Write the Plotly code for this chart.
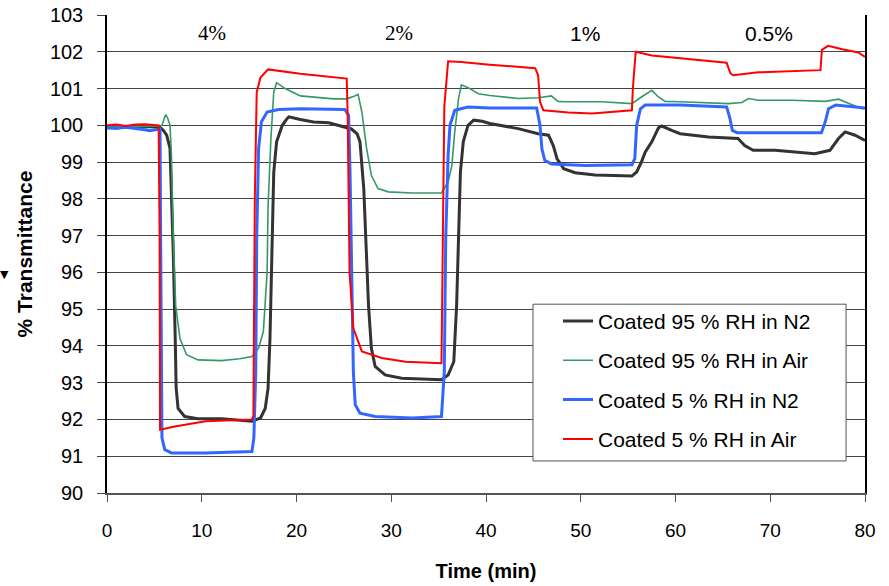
import plotly.graph_objects as go

# ---------------- data ----------------
t_black = [0, 1, 2, 3, 4, 5, 5.6, 5.95, 6.3, 6.65, 6.8, 7.0, 7.2, 7.3, 7.5, 8.2, 9.6, 12.1, 15.3, 16.2,
           16.7, 17.0, 17.2, 17.4, 17.6, 17.9, 18.5, 19.0, 19.2, 20.4, 21.8, 23.4, 25.3, 25.8, 26.4, 26.7,
           27.1, 27.3, 27.6, 27.9, 28.3, 29.35, 31.1, 35.3, 36.0, 36.6, 36.9, 37.1, 37.3, 37.6, 38.1, 38.7,
           39.6, 40.4, 43.4, 45.5, 46.6, 47.1, 47.5, 48.2, 49.4, 51.5, 55.4, 55.9, 56.4, 56.8, 57.5, 58.2,
           58.55, 59.6, 60.5, 63.5, 65.6, 66.6, 67.3, 68.2, 70.5, 74.7, 76.3, 77.2, 77.9, 78.95, 80]
v_black = [99.95, 99.93, 99.96, 99.94, 99.97, 99.95, 99.95, 99.86, 99.73, 99.37, 98.28, 96.47, 94.2, 92.85,
           92.3, 92.08, 92.02, 92.02, 91.95, 92.04, 92.3, 92.85, 94.2, 96.92, 98.73, 99.55, 100.0, 100.18,
           100.23, 100.16, 100.09, 100.07, 99.95, 99.9, 99.77, 99.55, 98.28, 96.92, 95.11, 93.94, 93.44,
           93.21, 93.12, 93.08, 93.21, 93.57, 95.11, 96.92, 98.73, 99.55, 100.0, 100.14, 100.11, 100.05,
           99.91, 99.77, 99.73, 99.45, 99.09, 98.82, 98.71, 98.65, 98.62, 98.73, 99.0, 99.27, 99.55, 99.93,
           99.98, 99.86, 99.77, 99.68, 99.64, 99.64, 99.45, 99.32, 99.32, 99.23, 99.32, 99.64, 99.82,
           99.73, 99.59]

t_green = [0, 2, 4, 5.5, 5.8, 6.0, 6.2, 6.4, 6.65, 6.8, 7.0, 7.25, 7.7, 8.4, 9.6, 12.1, 14.0, 15.3, 16.0,
           16.5, 16.9, 17.0, 17.3, 17.6, 17.9, 18.8, 20.4, 23.9, 25.3, 26.0, 26.5, 26.9, 27.4, 27.9, 28.6,
           29.7, 32.2, 35.3, 36.0, 36.4, 36.7, 37.1, 37.4, 38.2, 39.2, 40.4, 43.4, 45.5, 46.9, 47.6, 48.3,
           52.2, 55.4, 56.4, 57.5, 58.2, 58.9, 60.5, 63.5, 65.6, 67.0, 67.7, 68.75, 72.3, 75.8, 77.2, 78.3,
           79.7, 80]
v_green = [99.97, 99.96, 99.97, 99.98, 100.0, 100.15, 100.29, 100.2, 100.0, 99.19, 96.92, 95.1, 94.2,
           93.76, 93.62, 93.6, 93.65, 93.71, 93.94, 94.39, 96.0, 97.8, 99.64, 100.9, 101.16, 101.0, 100.8,
           100.72, 100.72, 100.78, 100.84, 100.36, 99.37, 98.64, 98.28, 98.19, 98.16, 98.16, 98.46, 98.91,
           99.82, 100.72, 101.1, 101.01, 100.86, 100.81, 100.73, 100.75, 100.8, 100.65, 100.64, 100.64,
           100.59, 100.77, 100.95, 100.77, 100.65, 100.64, 100.62, 100.59, 100.62, 100.73, 100.68, 100.68,
           100.65, 100.71, 100.59, 100.45, 100.47]

t_blue = [0, 1, 2, 3, 4, 4.5, 5.0, 5.5, 5.6, 5.65, 5.75, 5.8, 6.1, 6.8, 10.35, 15.3, 15.5, 15.7, 15.8, 16.0,
          16.3, 16.9, 18.1, 20.4, 25.1, 25.5, 25.65, 25.8, 26.0, 26.2, 26.7, 28.3, 32.2, 35.3, 35.6, 35.75,
          36.0, 36.2, 36.7, 38.1, 40.4, 45.35, 45.7, 45.9, 46.2, 46.9, 50.45, 55.4, 55.7, 55.9, 56.3, 56.8,
          60.5, 65.4, 65.75, 66.0, 66.5, 70.5, 75.4, 75.8, 76.15, 76.9, 78.6, 80]
v_blue = [99.93, 99.92, 99.95, 99.92, 99.88, 99.85, 99.87, 99.9, 99.9, 97.4, 93.3, 91.5, 91.18, 91.09,
          91.09, 91.13, 91.5, 93.3, 96.92, 99.37, 100.1, 100.36, 100.43, 100.45, 100.43, 100.27, 98.73,
          96.0, 93.3, 92.4, 92.17, 92.08, 92.04, 92.08, 93.3, 96.92, 99.19, 100.0, 100.41, 100.5, 100.47,
          100.47, 100.0, 99.36, 99.05, 98.95, 98.91, 98.93, 99.09, 100.0, 100.45, 100.55, 100.55, 100.5,
          100.18, 99.86, 99.8, 99.8, 99.8, 100.09, 100.45, 100.55, 100.5, 100.47]

t_red = [0, 1, 2, 3, 4, 5, 5.45, 5.55, 5.6, 7, 10.4, 15.3, 15.45, 15.6, 15.8, 16.2, 17.0, 20.4, 23.9, 25.3,
         25.4, 25.6, 26.0, 26.9, 29.0, 31.5, 35.3, 35.4, 35.6, 36.0, 37.4, 40.4, 45.2, 45.5, 45.7, 46.05,
         48.7, 51.2, 54.7, 55.4, 55.5, 55.8, 57.5, 60.5, 64.5, 65.4, 65.8, 66.1, 68.75, 72.3, 75.3, 75.45,
         76.1, 77.6, 79.3, 80]
v_red = [100.0, 100.02, 99.98, 100.02, 100.03, 100.02, 100.0, 97.0, 91.72, 91.8, 91.95, 92.0, 92.1, 98.0,
         100.9, 101.3, 101.52, 101.4, 101.31, 101.27, 100.3, 96.0, 94.48, 93.85, 93.67, 93.57, 93.53, 95.5,
         100.5, 101.74, 101.72, 101.65, 101.55, 101.36, 100.64, 100.41, 100.35, 100.32, 100.38, 100.41,
         101.0, 102.0, 101.9, 101.82, 101.73, 101.7, 101.41, 101.36, 101.44, 101.47, 101.5, 102.05,
         102.16, 102.07, 101.98, 101.86]

series_names = ["Coated 95 % RH in N2", "Coated 95 % RH in Air", "Coated 5 % RH in N2", "Coated 5 % RH in Air"]
step_labels = ["4%", "2%", "1%", "0.5%"]

# ---------------- figure ----------------
fig = go.Figure()
styles = [("#333333", 3), ("#339966", 1.6), ("#3366FF", 3), ("#FF0000", 2)]
for name, tx, vy, (col, w) in zip(series_names,
                                  [t_black, t_green, t_blue, t_red],
                                  [v_black, v_green, v_blue, v_red], styles):
    fig.add_trace(go.Scatter(x=tx, y=vy, mode="lines", name=name, legendgroup=name,
                             line=dict(color=col, width=w)))

SANS = "Liberation Sans, Arial, sans-serif"
SERIF = "Liberation Serif, Times New Roman, serif"

annotations = []
for lab, xp, fam in zip(step_labels, [11.1, 30.8, 50.5, 69.9], [SERIF, SERIF, SANS, SANS]):
    annotations.append(dict(x=xp, y=102.5, xref="x", yref="y", text=lab, showarrow=False,
                            yanchor="middle", font=dict(family=fam, size=21, color="black")))
annotations.append(dict(x=-0.1346, y=0.458, xref="paper", yref="paper", text="▼", showarrow=False,
                        xanchor="center", yanchor="middle", font=dict(family="DejaVu Sans", size=11, color="black")))

fig.update_layout(
    width=889, height=586,
    margin=dict(l=107, r=24, t=15, b=93, autoexpand=False),
    paper_bgcolor="white", plot_bgcolor="white",
    font=dict(family=SANS, size=19, color="black"),
    showlegend=True,
    legend=dict(x=0.595, y=0.402, xanchor="left", yanchor="top",
                bgcolor="rgba(0,0,0,0)", borderwidth=0,
                font=dict(family=SANS, size=21, color="black"),
                tracegroupgap=9, traceorder="grouped"),
    annotations=annotations,
    shapes=[dict(type="rect", xref="paper", yref="paper", x0=0.562, x1=0.975, y0=0.067, y1=0.395,
                 line=dict(color="#555555", width=1), fillcolor="white", layer="above")],
)
fig.update_xaxes(range=[0, 80], dtick=10, tick0=0, showgrid=False, zeroline=False, automargin=False,
                 showline=True, linecolor="#555555", linewidth=1.5, mirror=False,
                 ticks="outside", ticklen=7, tickcolor="#555555", ticklabelstandoff=12,
                 tickfont=dict(family=SANS, size=19),
                 title=dict(text="<b>Time (min)</b>", font=dict(family=SANS, size=20), standoff=24))
fig.update_yaxes(range=[90, 103], dtick=1, tick0=90, showgrid=True, gridcolor="#444444", gridwidth=1.2,
                 zeroline=False, showline=True, linecolor="black", linewidth=1.5, mirror=True,
                 automargin=False,
                 ticks="outside", ticklen=8, tickcolor="#444444", ticklabelstandoff=10,
                 tickfont=dict(family=SANS, size=20),
                 title=dict(text="<b>% Transmittance</b>", font=dict(family=SANS, size=21), standoff=12))

fig.write_html("out.html")
